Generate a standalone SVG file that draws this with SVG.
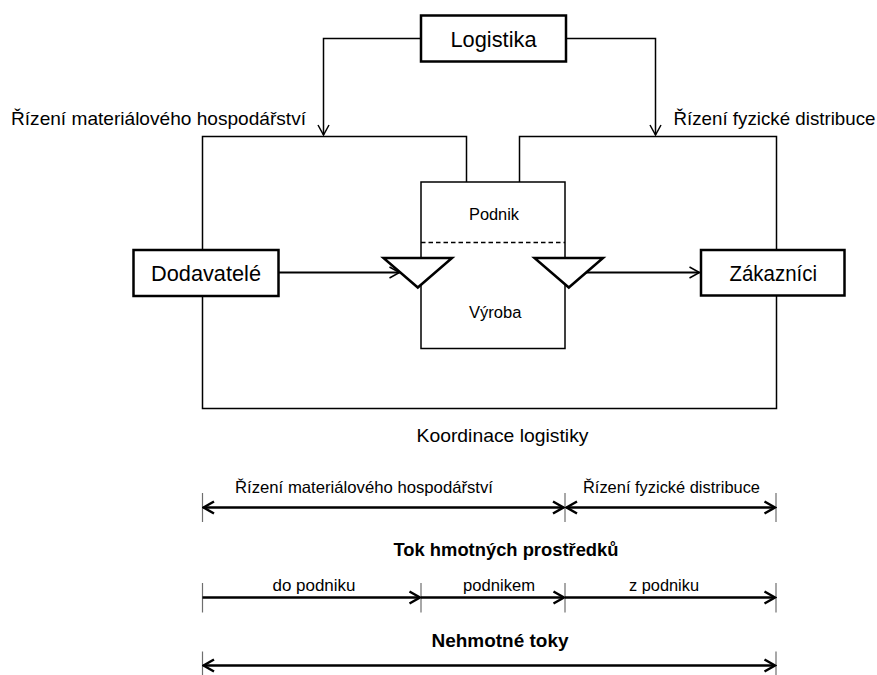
<svg xmlns="http://www.w3.org/2000/svg" width="877" height="675" viewBox="0 0 877 675">
<defs>
<style>
text{font-family:"Liberation Sans",Arial,sans-serif;fill:#000}
.big{font-size:21.5px}
.lab{font-size:19px}
.sm{font-size:16.5px}
.mid{font-size:16px}
.b{font-weight:bold;font-size:19px}
.box{fill:#fff;stroke:#000;stroke-width:2.5}
.thin{fill:none;stroke:#000;stroke-width:1.5}
.flow{fill:none;stroke:#000;stroke-width:2}
.dim{fill:none;stroke:#000;stroke-width:2.3}
.tick{stroke:#6e6e6e;stroke-width:1.2}
.tri{fill:#fff;stroke:#000;stroke-width:2.5;stroke-linejoin:miter}
</style>
<marker id="ah" markerUnits="userSpaceOnUse" viewBox="-12 -8 14 16" refX="0" refY="0" markerWidth="14" markerHeight="16" orient="auto">
<path d="M-10,-5.5 L0,0 L-10,5.5" fill="none" stroke="#000" stroke-width="1.5"/>
</marker>
<marker id="ad" markerUnits="userSpaceOnUse" viewBox="-14 -9 16 18" refX="0" refY="0" markerWidth="16" markerHeight="18" orient="auto-start-reverse">
<path d="M-10.5,-6 L0,0 L-10.5,6" fill="none" stroke="#000" stroke-width="2.5"/>
</marker>
</defs>

<g id="connectors">
<path class="thin" d="M421,38.5 H323.5 V135" marker-end="url(#ah)"/>
<path class="thin" d="M566,38.5 H655.5 V135" marker-end="url(#ah)"/>
<path class="thin" d="M466.5,182 V136.5 H202.5 V408.5 H776.5 V136.5 H519.5 V182"/>
<path class="flow" d="M278.5,272.5 H399.5" marker-end="url(#ah)"/>
<path class="flow" d="M586,272.5 H699.5" marker-end="url(#ah)"/>
</g>

<g id="logistika">
<rect class="box" x="421" y="15.5" width="145" height="46"/>
<text class="big" x="450.5" y="47" textLength="86" lengthAdjust="spacingAndGlyphs">Logistika</text>
</g>

<g id="label-rmh-top">
<text class="lab" x="11" y="124.5" textLength="295" lengthAdjust="spacingAndGlyphs">Řízení materiálového hospodářství</text>
</g>
<g id="label-rfd-top">
<text class="lab" x="673.5" y="124.5" textLength="202" lengthAdjust="spacingAndGlyphs">Řízení fyzické distribuce</text>
</g>

<g id="podnik">
<rect class="thin" x="421" y="182" width="144" height="166.5"/>
<line x1="421" y1="242.5" x2="565" y2="242.5" stroke="#000" stroke-width="1.3" stroke-dasharray="4.5,3"/>
<text class="mid" x="469" y="220" textLength="50" lengthAdjust="spacingAndGlyphs">Podnik</text>
<text class="mid" x="469" y="317.5" textLength="52.5" lengthAdjust="spacingAndGlyphs">Výroba</text>
</g>

<g id="triangle-in">
<polygon class="tri" points="383.5,258 452,258 417.8,287.5"/>
</g>
<g id="triangle-out">
<polygon class="tri" points="534.5,258 603,258 568.8,287.5"/>
</g>

<g id="dodavatele">
<rect class="box" x="133.5" y="250" width="145" height="46"/>
<text class="big" x="151" y="280.5" textLength="110" lengthAdjust="spacingAndGlyphs">Dodavatelé</text>
</g>

<g id="zakaznici">
<rect class="box" x="701" y="250" width="143.5" height="45.5"/>
<text class="big" x="729.5" y="280.5" textLength="87.5" lengthAdjust="spacingAndGlyphs">Zákazníci</text>
</g>

<g id="koordinace">
<text class="lab" x="416.5" y="441.5" textLength="172" lengthAdjust="spacingAndGlyphs">Koordinace logistiky</text>
</g>

<g id="scale-rizeni">
<line class="tick" x1="202.5" y1="493" x2="202.5" y2="522"/>
<line class="tick" x1="565" y1="493" x2="565" y2="522"/>
<line class="tick" x1="776" y1="493" x2="776" y2="522"/>
<path class="dim" d="M203.5,507.5 H563.5" marker-start="url(#ad)" marker-end="url(#ad)"/>
<path class="dim" d="M566.5,507.5 H775" marker-start="url(#ad)" marker-end="url(#ad)"/>
<text class="sm" x="235" y="492.5" textLength="258" lengthAdjust="spacingAndGlyphs">Řízení materiálového hospodářství</text>
<text class="sm" x="583" y="492.5" textLength="177" lengthAdjust="spacingAndGlyphs">Řízení fyzické distribuce</text>
</g>

<g id="title-tok">
<text class="b" x="393.5" y="555.5" textLength="225" lengthAdjust="spacingAndGlyphs">Tok hmotných prostředků</text>
</g>

<g id="scale-tok">
<line class="tick" x1="202.5" y1="583" x2="202.5" y2="612.5"/>
<line class="tick" x1="421" y1="583" x2="421" y2="612.5"/>
<line class="tick" x1="565" y1="583" x2="565" y2="612.5"/>
<line class="tick" x1="776" y1="583" x2="776" y2="612.5"/>
<path class="dim" d="M202.5,597.5 H420" marker-end="url(#ad)"/>
<path class="dim" d="M421,597.5 H564" marker-end="url(#ad)"/>
<path class="dim" d="M565,597.5 H775" marker-end="url(#ad)"/>
<text class="sm" x="272.5" y="590.5" textLength="83" lengthAdjust="spacingAndGlyphs">do podniku</text>
<text class="sm" x="463" y="590.5" textLength="72" lengthAdjust="spacingAndGlyphs">podnikem</text>
<text class="sm" x="629" y="590.5" textLength="70" lengthAdjust="spacingAndGlyphs">z podniku</text>
</g>

<g id="title-nehmotne">
<text class="b" x="431.5" y="646.5" textLength="137" lengthAdjust="spacingAndGlyphs">Nehmotné toky</text>
</g>

<g id="scale-nehmotne">
<line class="tick" x1="202.5" y1="651.5" x2="202.5" y2="680"/>
<line class="tick" x1="776" y1="651.5" x2="776" y2="680"/>
<path class="dim" d="M203.5,665.5 H775" marker-start="url(#ad)" marker-end="url(#ad)"/>
</g>
</svg>
